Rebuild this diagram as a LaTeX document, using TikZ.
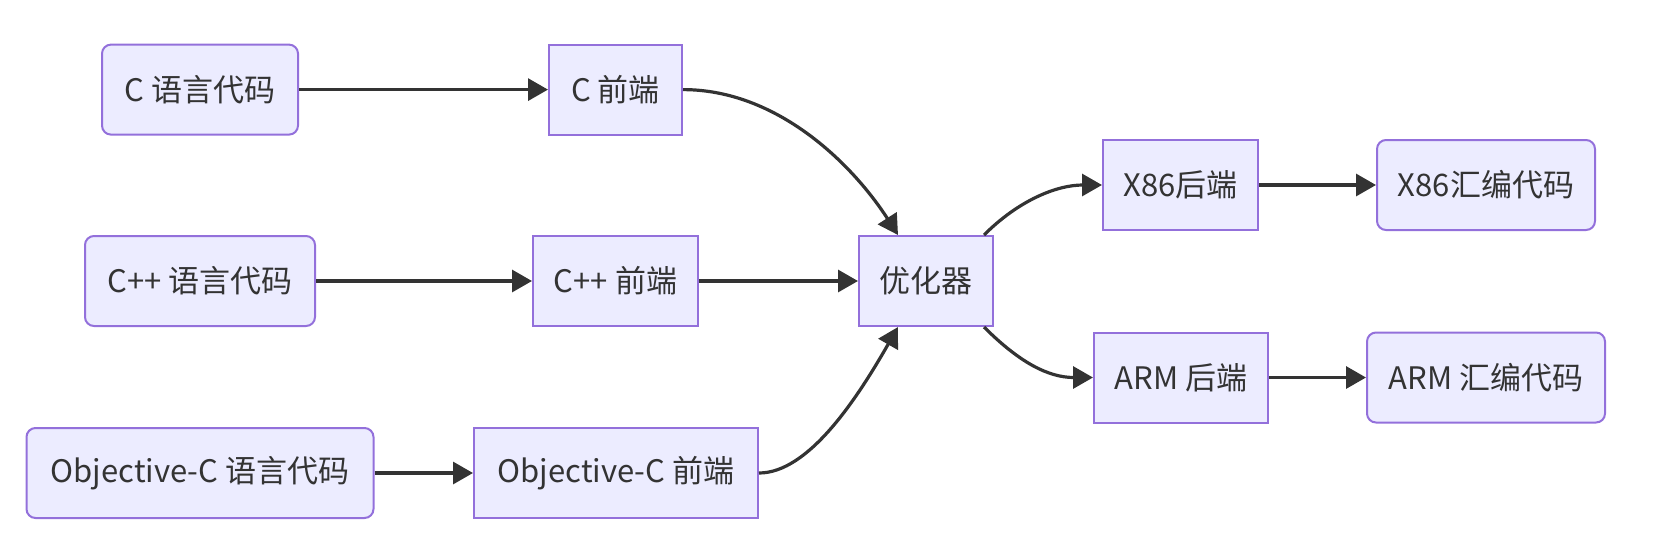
\documentclass[tikz,border=0pt]{standalone}
\usepackage{fontspec}
\setmainfont{Noto Sans CJK SC}
\usetikzlibrary{arrows.meta}
\definecolor{nodefill}{HTML}{ECECFF}
\definecolor{nodeborder}{HTML}{9370DB}
\definecolor{edgecol}{HTML}{333333}
\begin{document}
\begin{tikzpicture}[x=1pt,y=1pt,
  box/.style={draw=nodeborder, fill=nodefill, line width=2pt, minimum height=90pt,
    inner sep=0pt, text=edgecol, font=\fontsize{31}{36}\selectfont},
  roundbox/.style={box, rounded corners=9pt},
  edge/.style={draw=edgecol, line width=3.2pt, -{Triangle[length=20pt,width=22pt]}}
]
\useasboundingbox (0,0) rectangle (1662,-542);
\node[roundbox, minimum width=196pt] (csrc) at (200,-89.6) {C 语言代码};
\node[box, minimum width=133pt] (cfe) at (615.5,-89.6) {C 前端};
\node[roundbox, minimum width=230pt] (cppsrc) at (200,-281) {C++ 语言代码};
\node[box, minimum width=165pt] (cppfe) at (615.5,-281) {C++ 前端};
\node[roundbox, minimum width=347pt] (objsrc) at (200,-473) {Objective-C 语言代码};
\node[box, minimum width=284pt] (objfe) at (616,-473) {Objective-C 前端};
\node[box, minimum width=134pt] (opt) at (926,-281) {优化器};
\node[box, minimum width=155pt] (x86be) at (1180.5,-185) {X86后端};
\node[roundbox, minimum width=218pt] (x86asm) at (1486,-185) {X86汇编代码};
\node[box, minimum width=174pt] (armbe) at (1181,-377.5) {ARM 后端};
\node[roundbox, minimum width=238pt] (armasm) at (1486,-377.5) {ARM 汇编代码};

\draw[edge] (csrc.east) -- (cfe.west);
\draw[edge] (cppsrc.east) -- (cppfe.west);
\draw[edge] (objsrc.east) -- (objfe.west);
\draw[edge] (cppfe.east) -- (opt.west);
\draw[edge] (x86be.east) -- (x86asm.west);
\draw[edge] (armbe.east) -- (armasm.west);
\draw[edge] (cfe.east) .. controls +(95,0) and +(-45,70) .. ([xshift=-28pt]opt.north);
\draw[edge] (objfe.east) .. controls +(50,0) and +(-40,-70) .. ([xshift=-28pt]opt.south);
\draw[edge] ([xshift=-10pt]opt.north east) .. controls +(35,35) and +(-45,0) .. (x86be.west);
\draw[edge] ([xshift=-10pt]opt.south east) .. controls +(35,-35) and +(-45,0) .. (armbe.west);
\end{tikzpicture}
\end{document}
